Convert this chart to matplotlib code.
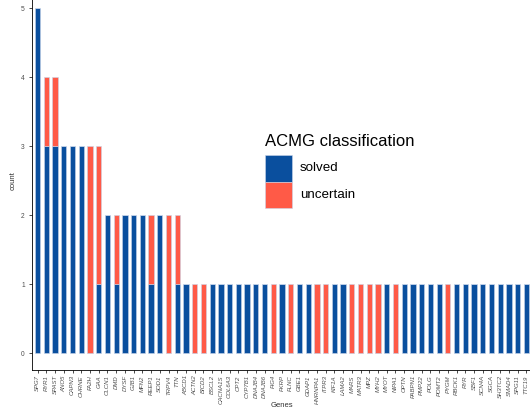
import matplotlib
matplotlib.use("Agg")
import matplotlib.pyplot as plt
from matplotlib.patches import Rectangle
import numpy as np

# genes ordered by total count, then alphabetically
genes = ["SPG7", "RYR1", "SPAST", "ANO5", "CAPN3", "CHRNE", "FA2H", "GAA",
         "CLCN1", "DMD", "DYSF", "GJB1", "MFN2", "REEP1", "SOD1", "TRPV4", "TTN",
         "ABCD1", "ACTN2", "BICD2", "BSCL2", "CACNA1S", "COL6A3", "CPT2", "CYP7B1",
         "DNAJB4", "DNAJB6", "FIG4", "FKRP", "FLNC", "GBE1", "GDAP1", "HNRNPA1",
         "ITPR3", "KIF1A", "LAMA2", "MARS", "MATR3", "MPZ", "MYH2", "MYOT", "NIPA1",
         "OPTN", "PABPN1", "PMP22", "POLG", "POMT2", "PYGM", "RBCK1", "RYR", "SBF1",
         "SCN4A", "SGCA", "SH3TC2", "SMAD4", "SPG11", "TTC19"]

solved = [5, 3, 3, 3, 3, 3, 0, 1,
          2, 1, 2, 2, 2, 1, 2, 0, 1,
          1, 0, 0, 1, 1, 1, 1, 1,
          1, 1, 0, 1, 0, 1, 1, 0,
          0, 1, 1, 0, 0, 0, 0, 1, 0,
          1, 1, 1, 1, 1, 0, 1, 1, 1,
          1, 1, 1, 1, 1, 1]

uncertain = [0, 1, 1, 0, 0, 0, 3, 2,
             0, 1, 0, 0, 0, 1, 0, 2, 1,
             0, 1, 1, 0, 0, 0, 0, 0,
             0, 0, 1, 0, 1, 0, 0, 1,
             1, 0, 0, 1, 1, 1, 1, 0, 1,
             0, 0, 0, 0, 0, 1, 0, 0, 0,
             0, 0, 0, 0, 0, 0]

classes = ["solved", "uncertain"]
blue = "#0A4F9E"
red = "#FF5A47"

plt.rcParams['font.family'] = ['Liberation Sans', 'DejaVu Sans']

W, H = 530, 411
fig = plt.figure(figsize=(W / 100, H / 100), dpi=100)
# the reference is a crop of a larger figure: the axes runs past the top and right edges
ax = fig.add_axes([0.0611, 0.0991, 0.942, 0.9234])

x = np.arange(len(genes))
ax.bar(x, solved, width=0.6, color=blue, edgecolor="#c9d6ea", linewidth=0.4)
ax.bar(x, uncertain, width=0.6, bottom=solved, color=red, edgecolor="#c9d6ea", linewidth=0.4)

ax.set_xlim(-0.6, len(genes) - 0.4)
ax.set_ylim(-0.25, 5.25)

ax.set_xticks(x)
ax.set_xticklabels(genes, rotation=90, fontsize=4.3, style="italic", color="#4d4d4d")
ax.set_yticks(range(6))
ax.tick_params(axis="y", labelsize=4.8, labelcolor="#4d4d4d", length=2, width=0.5)
ax.tick_params(axis="x", length=2, width=0.5, pad=1.5)

for side in ["top", "right"]:
    ax.spines[side].set_visible(False)
for side in ["left", "bottom"]:
    ax.spines[side].set_linewidth(0.6)

def px(xp, yp):
    return xp / W, 1 - yp / H

# axis titles placed where the reference has them
fig.text(*px(282, 405), "Genes", fontsize=5.5, color="#333333", ha="center", va="center")
ax.set_ylabel("count", fontsize=5.5, color="#333333", labelpad=3)

# legend drawn by hand to get ggplot-like contiguous keys
fig.text(*px(265, 146), "ACMG classification", fontsize=12, va="baseline", ha="left")
key_top = 155
key_size = 26.5
for i, (name, col) in enumerate(zip(classes, [blue, red])):
    y0 = key_top + i * key_size
    fx, fy = px(265, y0 + key_size)
    fig.patches.append(Rectangle((fx, fy), key_size / W, key_size / H,
                                 transform=fig.transFigure, facecolor=col,
                                 edgecolor="#c9d6ea", linewidth=0.4))
    fig.text(*px(300, y0 + key_size / 2), name, fontsize=9.6, va="center", ha="left")

fig.savefig("out.png", dpi=100)
